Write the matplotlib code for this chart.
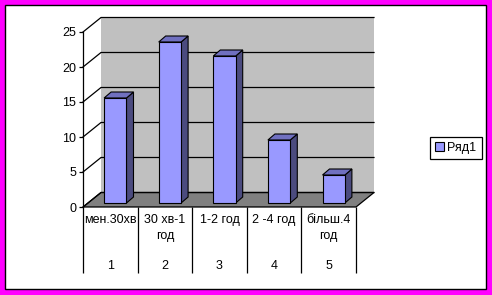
import matplotlib
matplotlib.use("Agg")
import matplotlib.pyplot as plt
from matplotlib.patches import Polygon, Rectangle, Patch
import numpy as np

plt.rcParams['font.family'] = ['Liberation Sans', 'DejaVu Sans']

categories = ['мен.30хв', '30 хв-1\nгод', '1-2 год', '2 -4 год', 'більш.4\nгод']
numbers = ['1', '2', '3', '4', '5']
values = [15, 23, 21, 9, 4]
series_name = 'Ряд1'
yticks = [0, 5, 10, 15, 20, 25]

front_col = '#9999ff'
top_col = '#7070c0'
side_col = '#4b4b7f'
wall_col = '#c0c0c0'
floor_col = '#808080'

W, H = 492, 295
fig = plt.figure(figsize=(W / 100, H / 100), dpi=100)
fig.patch.set_facecolor('#ff00ff')
fig.patches.append(Rectangle((5 / W, 6 / H), 481 / W, 284 / H, transform=fig.transFigure,
                             facecolor='white', edgecolor='black', lw=1, zorder=-5))

ax = fig.add_axes([83 / W, 88 / H, 273 / W, 175 / H])
ax.set_zorder(1)
ax.patch.set_visible(False)
n = len(values)
x = np.arange(1, n + 1)
ax.set_xlim(0.5, n + 0.5)
ax.set_ylim(0, 25)

# pixels -> data units
p0 = ax.transData.transform((0, 0))
p1 = ax.transData.transform((1, 1))
sx, sy = p1[0] - p0[0], p1[1] - p0[1]
def px(dx, dy):
    return dx / sx, dy / sy

dx, dy = px(18, 14.5)      # full depth of the chart
fx, fy = px(5, 4)          # bar front face offset
bx, by = px(7, 6)          # bar depth
x0, x1 = 0.5, n + 0.5

# back wall + floor
ax.add_patch(Rectangle((x0 + dx, dy), x1 - x0, 25, facecolor=wall_col, edgecolor='none',
                       clip_on=False, zorder=1))
ax.add_patch(Polygon([(x0, 0), (x1, 0), (x1 + dx, dy), (x0 + dx, dy)], closed=True,
                     facecolor=floor_col, edgecolor='black', lw=0.9, clip_on=False, zorder=1.5))
for v in yticks:
    ax.plot([x0, x0 + dx, x1 + dx], [v, v + dy, v + dy], color='black', lw=0.9,
            clip_on=False, zorder=2)

# bars
bw = 0.41
ax.bar(x + fx, values, width=bw, bottom=fy, color=front_col, edgecolor='black', lw=0.8,
       clip_on=False, zorder=5)
for xi, v in zip(x, values):
    xl, xr = xi + fx - bw / 2, xi + fx + bw / 2
    yt = fy + v
    ax.add_patch(Polygon([(xr, fy), (xr, yt), (xr + bx, yt + by), (xr + bx, fy + by)],
                         facecolor=side_col, edgecolor='black', lw=0.8, clip_on=False, zorder=4))
    ax.add_patch(Polygon([(xl, yt), (xr, yt), (xr + bx, yt + by), (xl + bx, yt + by)],
                         facecolor=top_col, edgecolor='black', lw=0.8, clip_on=False, zorder=4))

# axes
for s in ['top', 'right', 'bottom']:
    ax.spines[s].set_visible(False)
ax.spines['left'].set_linewidth(0.9)
ax.spines['left'].set_zorder(3)
ax.set_yticks(yticks)
ax.set_xticks([])
ax.tick_params(axis='y', length=3, width=0.9, pad=2, labelsize=9)
ax.axhline(0, color='black', lw=0.9, zorder=3)

# category table below
_, lo = px(0, -66)
ax.vlines(np.arange(n + 1) + 0.5, lo, 0, color='black', lw=0.9, clip_on=False)
_, ytxt = px(0, -7)
_, ynum = px(0, -59)
for xi, lab, num in zip(x, categories, numbers):
    ax.text(xi, ytxt, lab, ha='center', va='top', fontsize=9, linespacing=1.5)
    ax.text(xi, ynum, num, ha='center', va='center', fontsize=9)

leg = fig.legend(handles=[Patch(facecolor=front_col, edgecolor='black', lw=0.8, label=series_name)],
                 loc='center left', bbox_to_anchor=(430 / W, 1 - 147.5 / H), fontsize=9,
                 fancybox=False, framealpha=1, edgecolor='black', borderpad=0.4,
                 handlelength=0.7, handleheight=0.7, handletextpad=0.3, borderaxespad=0)
leg.get_frame().set_linewidth(0.9)

fig.savefig('out.png', dpi=100, facecolor=fig.get_facecolor())
